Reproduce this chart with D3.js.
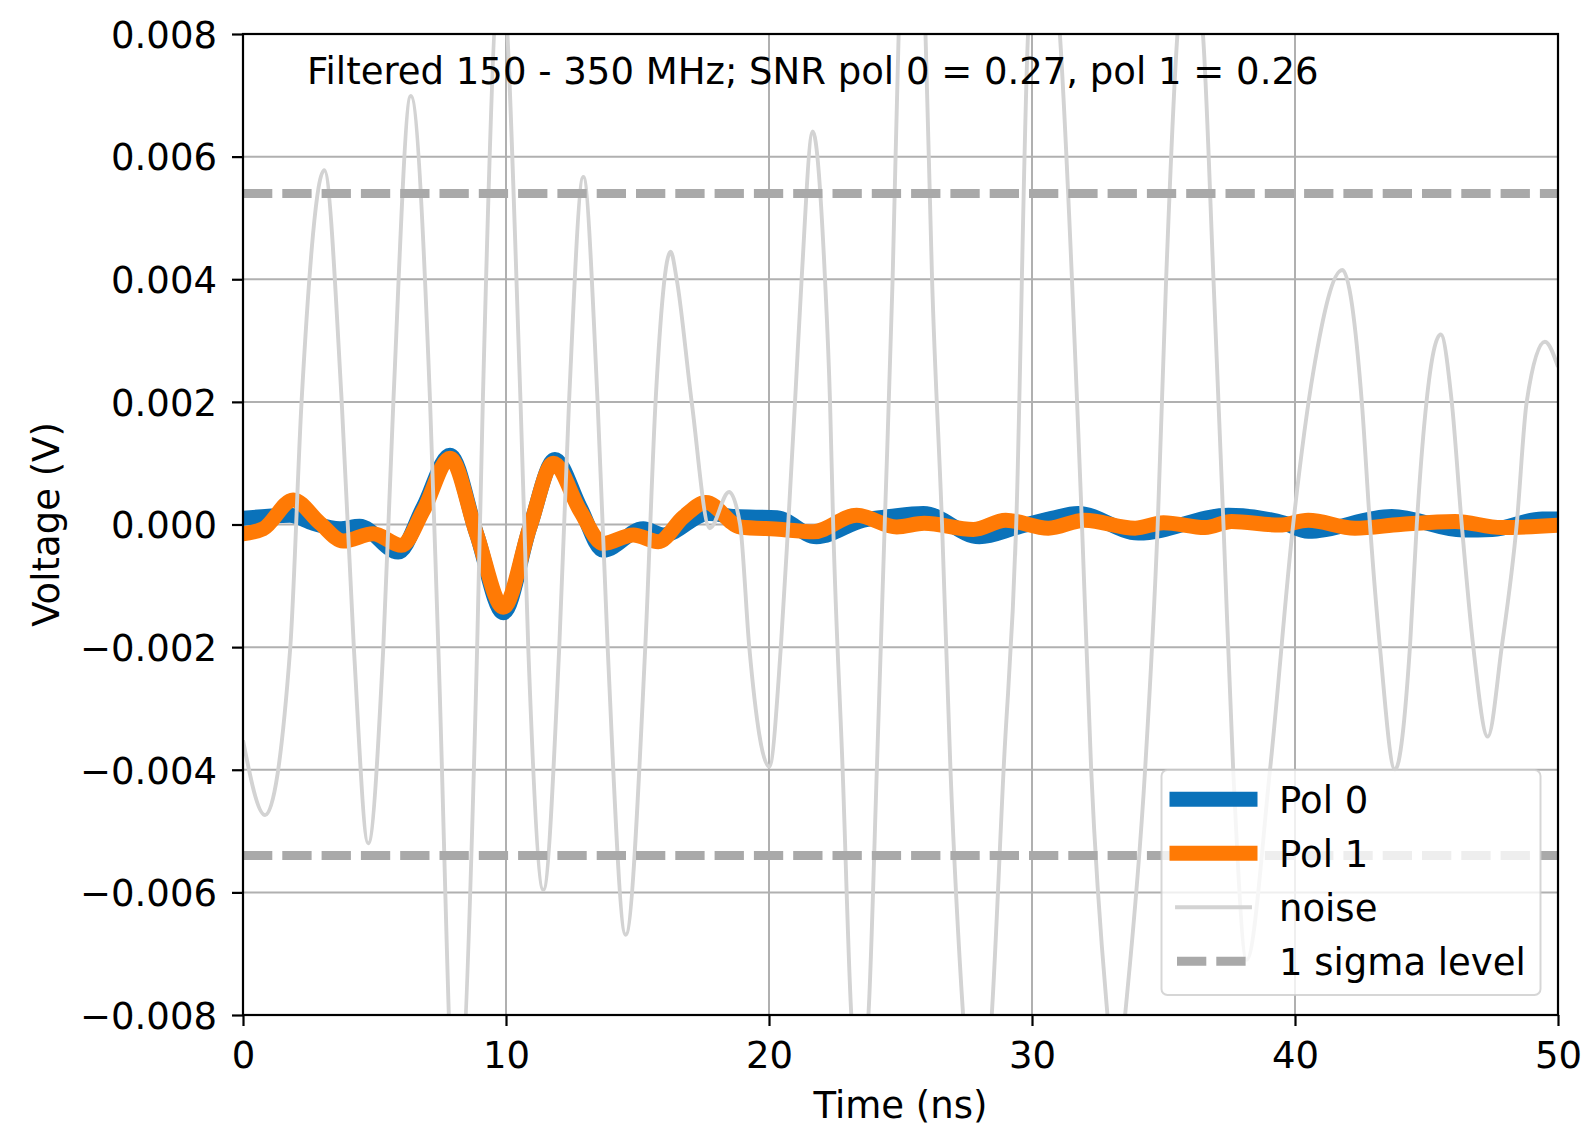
<!DOCTYPE html>
<html>
<head>
<meta charset="utf-8">
<script src="https://cdn.jsdelivr.net/npm/d3@7"></script>
<style>
  body { margin: 0; background: #fff; }
  svg { display: block; }
  text { font-family: "DejaVu Sans", sans-serif; fill: #000; }
</style>
</head>
<body>
<svg id="chart" width="1583" height="1128"></svg>
<script>
// Time in ns, voltage in V
const xTicks = [0, 10, 20, 30, 40, 50];
const yTicks = [-0.008, -0.006, -0.004, -0.002, 0, 0.002, 0.004, 0.006, 0.008];

const pol0 = [
  [0, 0.0001], [1.78, 0.00015], [2.67, 0.00002], [3.68, -0.00007], [4.43, -0.00003],
  [5.9, -0.00045], [6.86, 0.00029], [7.87, 0.00113], [8.88, -0.00015], [9.9, -0.00144],
  [10.91, -0.00004], [11.86, 0.00106], [12.81, 0.00029], [13.7, -0.00042], [15.22, -0.00007],
  [15.98, -0.00017], [17.7, 0.00018], [18.7, 0.00013], [20.3, 0.00011], [21.81, -0.0002],
  [23.59, 0.00007], [24.6, 0.00013], [25.87, 0.00018], [28.0, -0.0002], [29.48, -0.00004],
  [30.75, 0.0001], [31.76, 0.00018], [34.04, -0.00014], [37.47, 0.00015], [39.6, 0.00002],
  [40.5, -0.00011], [43.68, 0.00013], [46.4, -0.00009], [47.5, -0.00008], [49.4, 0.00009],
  [50, 0.00009]
];

const pol1 = [
  [0, -0.00015], [0.77, -0.00007], [1.91, 0.0004], [2.93, 0.00002], [3.81, -0.00027],
  [4.95, -0.00015], [6.03, -0.00034], [6.86, 0.00023], [7.87, 0.00108], [8.88, -0.00015],
  [9.9, -0.00135], [10.91, -0.00004], [11.8, 0.001], [12.81, 0.00023], [13.7, -0.00031],
  [14.84, -0.00017], [15.79, -0.00028], [16.74, 0.00012], [17.6, 0.00036], [18.9, -0.00004],
  [20.5, -0.00008], [21.68, -0.00012], [23.33, 0.00015], [24.86, -0.00004], [25.9, 0.00002],
  [27.77, -0.00008], [29.0, 0.00007], [30.62, -0.00006], [32.0, 0.00007], [33.92, -0.00006],
  [35.0, 0.00003], [36.58, -0.00005], [37.59, 0.00005], [39.4, -0.00001], [40.5, 0.00007],
  [42.28, -0.00006], [44.0, 0.0], [46.08, 0.00005], [47.86, -0.00005], [50, -0.00001]
];

const noise = [
  [0.0, -0.00352], [0.84, -0.00474], [1.79, -0.00205], [2.23, 0.00203], [3.09, 0.00578],
  [3.75, 0.00203], [4.22, -0.00205], [4.76, -0.0052], [5.33, -0.00205], [5.72, 0.00203],
  [6.38, 0.00699], [7.11, 0.00203], [7.43, -0.00205], [8.09, -0.0100], [8.9, -0.00205],
  [9.12, 0.00203], [9.8, 0.0092], [10.55, 0.00203], [10.85, -0.00205], [11.42, -0.00596],
  [12.02, -0.00205], [12.4, 0.00203], [12.94, 0.00567], [13.48, 0.00203], [13.87, -0.00205],
  [14.55, -0.00669], [15.29, -0.00205], [15.69, 0.00203], [16.26, 0.00445], [16.49, 0.004],
  [17.06, 0.002], [17.75, -0.00006], [18.48, 0.00053], [18.9, 0.0], [19.25, -0.002],
  [20.01, -0.00395], [20.45, -0.002], [20.73, 0.0], [20.99, 0.002], [21.24, 0.004],
  [21.66, 0.00641], [22.13, 0.004], [22.32, 0.002], [22.44, 0.0], [22.8, -0.004],
  [23.13, -0.008], [23.45, -0.0092], [23.78, -0.008], [24.1, -0.004], [24.4, 0.0],
  [24.7, 0.004], [24.93, 0.008], [25.44, 0.0115], [25.95, 0.008], [26.2, 0.004],
  [26.58, 0.0], [26.9, -0.004], [27.38, -0.008], [27.93, -0.0105], [28.47, -0.008],
  [28.92, -0.004], [29.4, 0.0], [29.85, 0.008], [30.45, 0.0108], [31.06, 0.008],
  [31.9, 0.0], [32.25, -0.004], [32.87, -0.008], [33.2, -0.0094], [33.54, -0.008],
  [34.3, -0.004], [34.78, 0.0], [35.1, 0.004], [35.53, 0.008], [36.0, 0.0095],
  [36.5, 0.008], [36.9, 0.004], [37.28, 0.0], [37.65, -0.004], [38.16, -0.0071],
  [39.05, -0.004], [39.93, 0.0], [40.7, 0.0025], [41.8, 0.00415],
  [42.54, 0.002], [42.85, 0.0], [43.23, -0.002], [43.8, -0.004], [44.37, -0.002],
  [44.63, 0.0], [45.0, 0.002], [45.54, 0.0031], [45.96, 0.002], [46.34, 0.0],
  [46.78, -0.002], [47.33, -0.00346], [47.86, -0.002], [48.43, 0.0], [48.81, 0.002],
  [49.5, 0.00298], [50.0, 0.00257]
];

const sigmaLevel = 0.0054;
const titleText = "Filtered 150 - 350 MHz; SNR pol 0 = 0.27, pol 1 = 0.26";
const legendLabels = ["Pol 0", "Pol 1", "noise", "1 sigma level"];

const C = {
  pol0: "#0a72ba",
  pol1: "#ff7a05",
  noise: "#d3d3d3",
  sigma: "#a9a9a9",
  grid: "#b0b0b0"
};

const FS = 37;
const plot = { left: 243, right: 1558, top: 34, bottom: 1015 };

const svg = d3.select("#chart");
const x = d3.scaleLinear().domain([0, 50]).range([plot.left, plot.right]);
const y = d3.scaleLinear().domain([-0.008, 0.008]).range([plot.bottom, plot.top]);

svg.append("defs").append("clipPath").attr("id", "plotClip")
  .append("rect")
  .attr("x", plot.left).attr("y", plot.top)
  .attr("width", plot.right - plot.left).attr("height", plot.bottom - plot.top);

// grid
const grid = svg.append("g");
grid.selectAll("line.gx").data(xTicks).join("line")
  .attr("x1", d => x(d)).attr("x2", d => x(d))
  .attr("y1", plot.top).attr("y2", plot.bottom)
  .attr("stroke", C.grid).attr("stroke-width", 2);
grid.selectAll("line.gy").data(yTicks).join("line")
  .attr("x1", plot.left).attr("x2", plot.right)
  .attr("y1", d => y(d)).attr("y2", d => y(d))
  .attr("stroke", C.grid).attr("stroke-width", 2);

const line = d3.line().x(d => x(d[0])).y(d => y(d[1])).curve(d3.curveMonotoneX);
const marks = svg.append("g").attr("clip-path", "url(#plotClip)");

marks.append("path").datum(pol0).attr("d", line)
  .attr("fill", "none").attr("stroke", C.pol0).attr("stroke-width", 15)
  .attr("stroke-linejoin", "round").attr("stroke-linecap", "square");
marks.append("path").datum(pol1).attr("d", line)
  .attr("fill", "none").attr("stroke", C.pol1).attr("stroke-width", 15)
  .attr("stroke-linejoin", "round").attr("stroke-linecap", "square");
marks.append("path").datum(noise).attr("d", line)
  .attr("fill", "none").attr("stroke", C.noise).attr("stroke-width", 3.9)
  .attr("stroke-linejoin", "round");
marks.selectAll("line.sigma").data([sigmaLevel, -sigmaLevel]).join("line")
  .attr("x1", x(0)).attr("x2", x(50))
  .attr("y1", d => y(d)).attr("y2", d => y(d))
  .attr("stroke", C.sigma).attr("stroke-width", 9)
  .attr("stroke-dasharray", "29.3,10");

// axes
const xAxis = d3.axisBottom(x).tickValues(xTicks).tickSize(11).tickPadding(16)
  .tickFormat(d3.format("d"));
const yAxis = d3.axisLeft(y).tickValues(yTicks).tickSize(11).tickPadding(15)
  .tickFormat(d3.format(".3f"));

const gx = svg.append("g").attr("transform", `translate(0,${plot.bottom})`).call(xAxis);
const gy = svg.append("g").attr("transform", `translate(${plot.left},0)`).call(yAxis);
[gx, gy].forEach(g => {
  g.select(".domain").remove();
  g.selectAll(".tick line").attr("stroke", "#000").attr("stroke-width", 2.2);
  g.selectAll(".tick text").attr("font-size", FS).attr("font-family", "DejaVu Sans").attr("fill", "#000");
});
gy.selectAll(".tick text").attr("dy", "0.36em");

// frame
svg.append("rect")
  .attr("x", plot.left).attr("y", plot.top)
  .attr("width", plot.right - plot.left).attr("height", plot.bottom - plot.top)
  .attr("fill", "none").attr("stroke", "#000").attr("stroke-width", 2.2);

// axis labels
svg.append("text").attr("x", (plot.left + plot.right) / 2).attr("y", 1118)
  .attr("text-anchor", "middle").attr("font-size", FS).text("Time (ns)");
svg.append("text").attr("transform", `translate(59,${(plot.top + plot.bottom) / 2}) rotate(-90)`)
  .attr("text-anchor", "middle").attr("font-size", FS).text("Voltage (V)");

// annotation
svg.append("text").attr("x", 307).attr("y", 84).attr("font-size", FS).text(titleText);

// legend
const lg = svg.append("g");
lg.append("rect")
  .attr("x", 1161.5).attr("y", 770).attr("width", 379).attr("height", 225)
  .attr("rx", 6).attr("ry", 6)
  .attr("fill", "#fff").attr("fill-opacity", 0.8)
  .attr("stroke", "#cccccc").attr("stroke-opacity", 0.8).attr("stroke-width", 2);

const legendStyles = [
  { color: C.pol0, width: 15, dash: null, cap: "square" },
  { color: C.pol1, width: 15, dash: null, cap: "square" },
  { color: C.noise, width: 3.9, dash: null, cap: "square" },
  { color: C.sigma, width: 9, dash: "29.3,10", cap: "butt" }
];
legendLabels.forEach((lab, i) => {
  const base = 812.7 + i * 54;
  const s = legendStyles[i];
  const h = lg.append("line")
    .attr("x1", 1177).attr("x2", 1250)
    .attr("y1", base - 13.4).attr("y2", base - 13.4)
    .attr("stroke", s.color).attr("stroke-width", s.width).attr("stroke-linecap", s.cap);
  if (s.dash) h.attr("stroke-dasharray", s.dash);
  lg.append("text").attr("x", 1279).attr("y", base).attr("font-size", FS).text(lab);
});
</script>
</body>
</html>
